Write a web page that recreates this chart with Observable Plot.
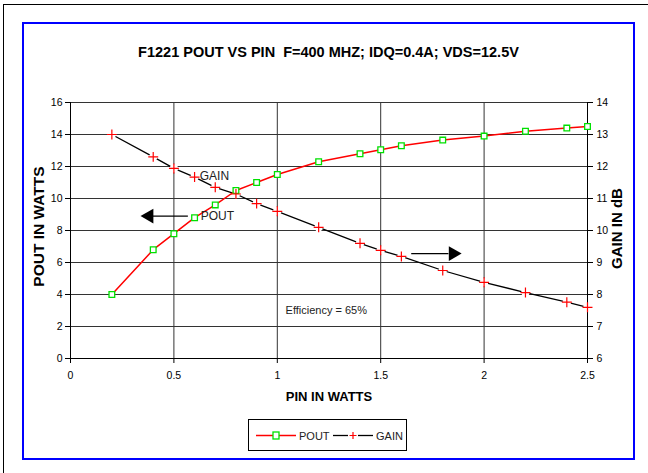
<!DOCTYPE html>
<html>
<head>
<meta charset="utf-8">
<script src="https://cdn.jsdelivr.net/npm/d3@7"></script>
<script src="https://cdn.jsdelivr.net/npm/@observablehq/plot@0.6"></script>
<style>
  body { margin: 0; background: #fff; font-family: "Liberation Sans", Arial, sans-serif; }
  #page { position: relative; width: 648px; height: 473px; overflow: hidden; background: #fff; }
  #outer { position: absolute; left: 3px; top: 4px; width: 700px; height: 500px; border-left: 1px solid #000; border-top: 1px solid #000; }
  #frame { position: absolute; left: 22px; top: 22px; width: 609px; height: 434px; border: 2.5px solid #0000ff; }
  #title { position: absolute; left: 23px; width: 611px; top: 44px; text-align: center; font-weight: bold; font-size: 14.5px; white-space: pre; }
  #chart { position: absolute; left: 0; top: 0; }
  #legend { position: absolute; left: 248px; top: 419px; width: 159px; height: 32px; border: 1px solid #000; box-sizing: border-box; background: #fff; }
</style>
</head>
<body>
<div id="page">
  <div id="outer"></div>
  <div id="frame"></div>
  <div id="title">F1221 POUT VS PIN  F=400 MHZ; IDQ=0.4A; VDS=12.5V</div>
  <div id="chart"></div>
  <div id="legend"></div>
</div>
<script>
// Data
const pin = [0.2, 0.4, 0.5, 0.6, 0.7, 0.8, 0.9, 1.0, 1.2, 1.4, 1.5, 1.6, 1.8, 2.0, 2.2, 2.4, 2.5];
const pout = [4.0, 6.8, 7.8, 8.8, 9.6, 10.5, 11.0, 11.5, 12.3, 12.8, 13.05, 13.3, 13.65, 13.9, 14.2, 14.4, 14.5];
const gain = [13.0, 12.3, 11.94, 11.67, 11.35, 11.14, 10.84, 10.6, 10.1, 9.6, 9.38, 9.19, 8.75, 8.38, 8.06, 7.76, 7.6];
const xTicks = [0, 0.5, 1, 1.5, 2, 2.5];
const yLeftTicks = [0, 2, 4, 6, 8, 10, 12, 14, 16];
const yRightTicks = [6, 7, 8, 9, 10, 11, 12, 13, 14];

// Right axis (gain, 6..14 dB) mapped onto left scale (0..16 W)
const g2y = g => (g - 6) * 2;
const y2g = y => y / 2 + 6;

const poutData = pin.map((x, i) => ({x, y: pout[i]}));
const gainData = pin.map((x, i) => ({x, g: gain[i]}));

// Annotations in data units
const labels = [
  {x: 0.625, y: 11.4, text: "GAIN"},
  {x: 0.63, y: 8.9, text: "POUT"}
];
const arrows = [
  {x1: 0.57, x2: 0.40, tip: 0.36, y: 8.9, dir: "left"},
  {x1: 1.65, x2: 1.83, tip: 1.87, y: 6.56, dir: "right"}
];
const note = [{x: 1.04, y: 3.0, text: "Efficiency = 65%"}];

const font = "Liberation Sans, Arial, sans-serif";

const chart = Plot.plot({
  width: 648,
  height: 410,
  marginLeft: 70,
  marginRight: 61,
  marginTop: 102,
  marginBottom: 52,
  style: {fontFamily: font, fontSize: "10.5px", color: "#000", background: "transparent", overflow: "visible"},
  x: {domain: [0, 2.5], ticks: xTicks},
  y: {domain: [0, 16], ticks: yLeftTicks},
  marks: [
    Plot.ruleY(yLeftTicks, {stroke: "#333", strokeWidth: 1}),
    Plot.ruleX(xTicks, {stroke: "#333", strokeWidth: 1}),
    Plot.ruleX([0, 2.5], {stroke: "#000", strokeWidth: 1}),
    Plot.ruleY([0], {stroke: "#000", strokeWidth: 1}),
    Plot.axisY({anchor: "left", ticks: yLeftTicks, tickSize: 5, tickPadding: 3, label: null, tickFormat: d => String(d)}),
    Plot.axisY({anchor: "right", ticks: yLeftTicks, tickSize: 5, tickPadding: 4, label: null, tickFormat: d => String(y2g(d))}),
    Plot.axisX({anchor: "bottom", ticks: xTicks, tickSize: 5, tickPadding: 8, label: null, tickFormat: d => String(d)}),
    // axis titles
    Plot.text(["POUT IN WATTS"], {frameAnchor: "left", textAnchor: "middle", dx: -31, dy: -4, rotate: -90, fontWeight: "bold", fontSize: 15.5, text: d => d}),
    Plot.text(["GAIN IN dB"], {frameAnchor: "right", textAnchor: "middle", dx: 30, dy: -2, rotate: -90, fontWeight: "bold", fontSize: 15, text: d => d}),
    Plot.text(["PIN IN WATTS"], {frameAnchor: "bottom", dy: 42, fontWeight: "bold", fontSize: 13, text: d => d}),
    // series
    Plot.line(gainData, {x: "x", y: d => g2y(d.g), stroke: "#000", strokeWidth: 1.3}),
    Plot.dot(gainData, {x: "x", y: d => g2y(d.g), r: 4.2, fill: "#fff", stroke: "none"}),
    Plot.line(poutData, {x: "x", y: "y", stroke: "#ff0000", strokeWidth: 1.5}),
    Plot.dot(poutData, {x: "x", y: "y", symbol: "square", r: 3.2, stroke: "#00e000", fill: "#fff", strokeWidth: 1.3}),
    Plot.dot(gainData, {x: "x", y: d => g2y(d.g), symbol: "plus", r: 3.3, stroke: "#ff0000", strokeWidth: 1.2}),
    // annotations
    Plot.text(labels, {x: "x", y: "y", text: "text", textAnchor: "start", fontSize: 12, fill: "#222"}),
    Plot.text(note, {x: "x", y: "y", text: "text", textAnchor: "start", fontSize: 11, fill: "#222"}),
    Plot.ruleY(arrows, {x1: "x1", x2: "x2", y: "y", stroke: "#000", strokeWidth: 1.2}),
    Plot.dot(arrows, {x: d => (d.x2 + d.tip) / 2, y: "y", symbol: "triangle", r: 5.5, fill: "#000", stroke: "none", rotate: d => d.dir === "left" ? -90 : 90})
  ]
});
document.getElementById("chart").appendChild(chart);

// Legend
const leg = d3.select("#legend").append("svg").attr("width", 159).attr("height", 32)
  .style("position", "absolute").style("left", "-1px").style("top", "-1px");
const ly = 16.5;
leg.append("line").attr("x1", 8).attr("x2", 48).attr("y1", ly).attr("y2", ly).attr("stroke", "#ff0000").attr("stroke-width", 1.5);
leg.append("rect").attr("x", 25).attr("y", ly - 3.5).attr("width", 6).attr("height", 7).attr("fill", "#fff").attr("stroke", "#00e000").attr("stroke-width", 1.3);
leg.append("text").attr("x", 51).attr("y", ly + 4).attr("font-size", 11).attr("font-family", font).attr("fill", "#222").text("POUT");
leg.append("line").attr("x1", 85).attr("x2", 100).attr("y1", ly).attr("y2", ly).attr("stroke", "#000").attr("stroke-width", 1.3);
leg.append("line").attr("x1", 110).attr("x2", 125).attr("y1", ly).attr("y2", ly).attr("stroke", "#000").attr("stroke-width", 1.3);
leg.append("path").attr("d", `M${105 - 3.5},${ly}h7M105,${ly - 3.5}v7`).attr("stroke", "#ff0000").attr("stroke-width", 1.2);
leg.append("text").attr("x", 128).attr("y", ly + 4).attr("font-size", 11).attr("font-family", font).attr("fill", "#222").text("GAIN");
</script>
</body>
</html>
